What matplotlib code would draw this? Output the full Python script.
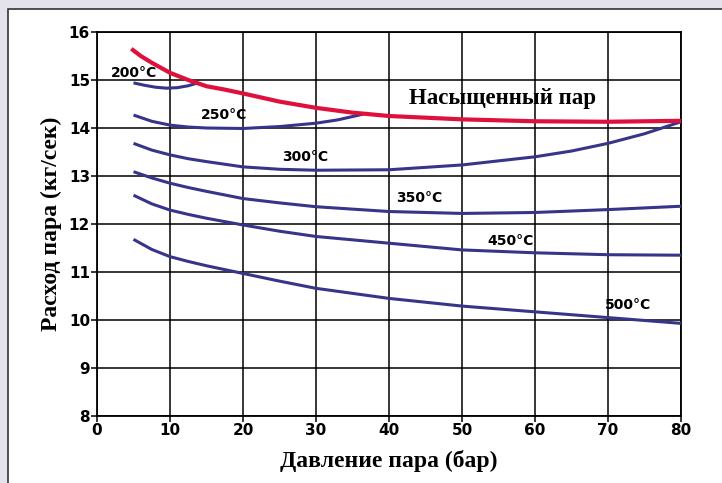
import matplotlib.pyplot as plt
from matplotlib.patches import Rectangle

# давление, бар / расход, кг/сек
sat_x = [4.7, 6, 7.5, 10, 12.5, 15, 17.5, 20, 25, 30, 35, 40, 50, 60, 70, 80]
sat_y = [15.65, 15.5, 15.36, 15.15, 15.0, 14.87, 14.8, 14.72, 14.55, 14.42, 14.32, 14.25, 14.18, 14.14, 14.13, 14.15]

t200_x = [5, 6.5, 8, 9.5, 11, 12.5, 13.8]
t200_y = [14.94, 14.89, 14.85, 14.83, 14.84, 14.88, 14.94]

t250_x = [5, 7.5, 10, 12.5, 15, 20, 25, 30, 33, 36.5]
t250_y = [14.27, 14.14, 14.06, 14.02, 14.0, 13.99, 14.03, 14.1, 14.17, 14.29]

t300_x = [5, 7.5, 10, 12.5, 15, 20, 25, 30, 40, 50, 60, 65, 70, 75, 80]
t300_y = [13.68, 13.54, 13.44, 13.36, 13.3, 13.19, 13.14, 13.12, 13.13, 13.23, 13.40, 13.52, 13.68, 13.88, 14.13]

t350_x = [5, 7.5, 10, 12.5, 15, 20, 25, 30, 40, 50, 60, 70, 80]
t350_y = [13.09, 12.96, 12.85, 12.76, 12.68, 12.53, 12.44, 12.36, 12.26, 12.22, 12.24, 12.3, 12.37]

t450_x = [5, 7.5, 10, 12.5, 15, 20, 25, 30, 40, 50, 60, 70, 80]
t450_y = [12.6, 12.42, 12.29, 12.2, 12.12, 11.98, 11.85, 11.74, 11.6, 11.46, 11.40, 11.36, 11.35]

t500_x = [5, 7.5, 10, 12.5, 15, 20, 25, 30, 40, 50, 60, 70, 80]
t500_y = [11.68, 11.47, 11.32, 11.22, 11.13, 10.97, 10.81, 10.66, 10.45, 10.29, 10.17, 10.05, 9.93]

blue = '#36358a'
red = '#e0103c'

fig = plt.figure(figsize=(7.22, 4.83), dpi=100, facecolor='#e4e2ea')
# белая панель с рамкой
fig.patches.append(Rectangle((7.5 / 722, -0.1), 1.1, 1 - 9.5 / 483 + 0.1,
                             transform=fig.transFigure, facecolor='white',
                             edgecolor='#333333', linewidth=1.2, zorder=-10))

ax = fig.add_axes([97 / 722, 1 - 416 / 483, 584 / 722, 384 / 483])
ax.set_facecolor('none')

for xs, ys in [(t200_x, t200_y), (t250_x, t250_y), (t300_x, t300_y),
               (t350_x, t350_y), (t450_x, t450_y), (t500_x, t500_y)]:
    ax.plot(xs, ys, color=blue, lw=2.2, solid_capstyle='butt',
            solid_joinstyle='round', zorder=3)
ax.plot(sat_x, sat_y, color=red, lw=3.0, solid_capstyle='butt',
        solid_joinstyle='round', zorder=4)

ax.set_xlim(0, 80)
ax.set_ylim(8, 16)
ax.set_xticks(range(0, 81, 10))
ax.set_yticks(range(8, 17))
ax.grid(True, color='black', lw=1.1)
ax.set_axisbelow(True)
for s in ax.spines.values():
    s.set_linewidth(1.3)
ax.tick_params(direction='out', length=4, width=1.1, pad=1, labelsize=11)
for lab in ax.get_xticklabels() + ax.get_yticklabels():
    lab.set_fontweight('bold')
    lab.set_family('DejaVu Sans')

lbl = dict(fontsize=10, fontweight='bold', ha='center', va='center',
           family='DejaVu Sans', zorder=5)
ax.text(5.0, 15.15, '200°C', **lbl)
ax.text(17.4, 14.27, '250°C', **lbl)
ax.text(28.5, 13.4, '300°C', **lbl)
ax.text(44.2, 12.54, '350°C', **lbl)
ax.text(56.6, 11.65, '450°C', **lbl)
ax.text(72.8, 10.31, '500°C', **lbl)
ax.text(55.5, 14.62, 'Насыщенный пар', fontsize=16.5, fontweight='bold',
        family='Liberation Serif', ha='center', va='center', zorder=5)

ax.set_xlabel('Давление пара (бар)', fontsize=17, fontweight='bold',
              family='Liberation Serif', labelpad=9)
ax.set_ylabel('Расход пара (кг/сек)', fontsize=17, fontweight='bold',
              family='Liberation Serif', labelpad=5)

fig.savefig('out.png', dpi=100, facecolor=fig.get_facecolor())
